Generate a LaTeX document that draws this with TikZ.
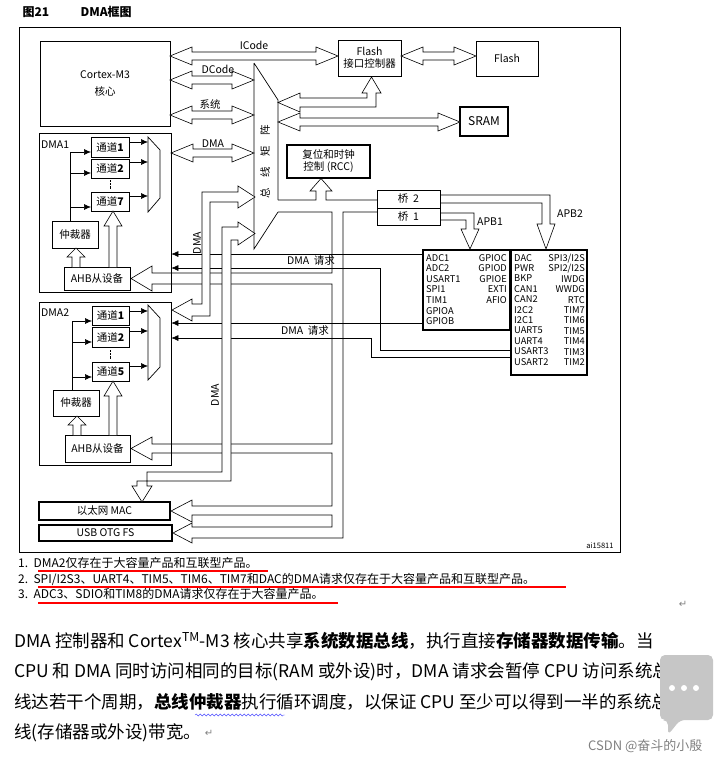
\documentclass[tikz,border=0pt]{standalone}
\usepackage{fontspec}
\setmainfont{Noto Sans CJK SC}
\newfontfamily\symfont{DejaVu Sans}
\usetikzlibrary{positioning,arrows.meta,decorations.pathmorphing}
\newcommand\dbl[3]{\draw[pipe] (#1,#3) -- ++(22,-9) -- ++(0,5) -- (#2-22,#3-4) -- ++(0,-5) -- (#2,#3) -- ++(-22,9) -- ++(0,-5) -- (#1+22,#3+4) -- ++(0,5) -- cycle;}
\newcommand\uparr[4]{\draw[pipe] (#1-4,#2) -- (#1-4,#4) -- (#1-9,#4) -- (#1,#3) -- (#1+9,#4) -- (#1+4,#4) -- (#1+4,#2);}
\tikzset{
  box/.style={draw, line width=0.7pt, inner sep=1pt, align=center, font=\fontsize{10.5}{12}\selectfont},
  thickbox/.style={box, line width=1.4pt},
  pipe/.style={draw, line width=0.6pt, fill=white},
  req/.style={line width=0.6pt, -{Latex[length=7pt,width=6pt]}},
  lbl/.style={font=\fontsize{10.5}{12}\selectfont, inner sep=0pt},
  note/.style={anchor=west, inner sep=0pt, font=\fontsize{12}{13}\selectfont},
  para/.style={anchor=west, inner sep=0pt, font=\fontsize{17.5}{19}\selectfont}
}
\begin{document}
\begin{tikzpicture}[x=1pt,y=-1pt]
\useasboundingbox (0,0) rectangle (713,763);
\node[anchor=west, font=\fontsize{12}{13}\selectfont\bfseries] (fig) at (19,12) {图21};
\node[anchor=west, font=\fontsize{12}{13}\selectfont\bfseries] (figname) at (77,12) {DMA框图};
\draw[line width=0.7pt] (19,27) rectangle (620,552);
% core and memories
\node[box, minimum width=130, minimum height=85] (cpu) at (105,83.5) {Cortex-M3\\[5pt]核心};
\node[box, minimum width=63, minimum height=36] (flashctl) at (369.5,58) {Flash\\接口控制器};
\node[box, minimum width=62, minimum height=35] (flash) at (507,58.5) {Flash};
\node[thickbox, minimum width=48, minimum height=29, font=\fontsize{12}{13}\selectfont] (sram) at (484,121.5) {SRAM};
\node[thickbox, minimum width=83, minimum height=33] (rcc) at (328.5,161.5) {复位和时钟\\控制 (RCC)};
\node[box, minimum width=63, minimum height=18] (brtwo) at (408.5,199) {桥\ \ 2};
\node[box, minimum width=63, minimum height=17] (brone) at (408.5,216.5) {桥\ \ 1};
% bus matrix
\draw[line width=0.7pt] (254,63) -- (278,100) -- (278,200) (278,212) -- (254,249) -- (254,63);
\node[lbl, rotate=90] (matrix) at (265,162) {总\quad 线\quad 矩\quad 阵};
\dbl{170}{338}{56}
\node[lbl] (icode) at (254,45) {ICode};
\dbl{170}{254}{80}
\node[lbl] (dcode) at (218,69) {DCode};
\dbl{170}{254}{115}
\node[lbl] (sys) at (210,104) {系统};
\dbl{171}{254}{153}
\node[lbl] (dmabus) at (213,144) {DMA};
\dbl{401}{476}{56}
\dbl{278}{460}{122}
\draw[pipe] (278,102.5) -- (300,93) -- (300,98) -- (367,98) -- (367,93) -- (362,93) -- (371.5,77) -- (381,93) -- (376,93) -- (376,107) -- (300,107) -- (300,112) -- cycle;
\draw[pipe, fill=none] (278,200) -- (316,200) -- (316,191) -- (310,191) -- (321,178.5) -- (332,191) -- (326,191) -- (326,200) -- (377,200);
% DMA1
\node[box, minimum width=132, minimum height=159] (dmaone) at (105,212.5) {};
\node[lbl, anchor=west] (dmaonelbl) at (41,145) {DMA1};
\node[box, minimum width=38, minimum height=20] (chAa) at (110,147) {通道\textbf{1}};
\node[box, minimum width=38, minimum height=19] (chAb) at (110,168.5) {通道\textbf{2}};
\node[box, minimum width=38, minimum height=19] (chAg) at (110,201.5) {通道\textbf{7}};
\draw[densely dotted] (110,180) -- (110,189);
\draw[line width=0.7pt] (148,137) -- (160,150) -- (160,198) -- (148,212) -- cycle;
\foreach \y in {142,162,196} \draw[req] (129,\y) -- (148,\y);
\node[box, minimum width=46, minimum height=27] (arbA) at (75,234.5) {仲裁器};
\node[box, minimum width=66, minimum height=23] (ahbA) at (97,278.5) {AHB从设备};
\draw[line width=0.6pt] (arbA.north -| 70,0) -- (70,152);
\foreach \y in {152,173,207} \draw[req] (70,\y) -- (91,\y);
\uparr{76}{267}{248}{257}
\uparr{113}{267}{211}{226}
% DMA2
\node[box, minimum width=132, minimum height=163] (dmatwo) at (105,383.5) {};
\node[lbl, anchor=west] (dmatwolbl) at (41,313) {DMA2};
\node[box, minimum width=37, minimum height=19] (chBa) at (110.5,315.5) {通道\textbf{1}};
\node[box, minimum width=37, minimum height=20] (chBb) at (110.5,337) {通道\textbf{2}};
\node[box, minimum width=37, minimum height=19] (chBe) at (110.5,371.5) {通道\textbf{5}};
\draw[densely dotted] (110.5,350) -- (110.5,359);
\draw[line width=0.7pt] (148,305) -- (160,318) -- (160,367) -- (148,380) -- cycle;
\foreach \y in {311,331,366} \draw[req] (129,\y) -- (148,\y);
\node[box, minimum width=46, minimum height=26] (arbB) at (76,403) {仲裁器};
\node[box, minimum width=65, minimum height=27] (ahbB) at (97.5,448.5) {AHB从设备};
\draw[line width=0.6pt] (72,390) -- (72,321);
\foreach \y in {321,342,377} \draw[req] (72,\y) -- (92,\y);
\uparr{77}{435}{416}{425}
\uparr{113}{435}{381}{396}
\node[thickbox, minimum width=131, minimum height=18] (eth) at (104.5,511) {以太网 MAC};
\node[thickbox, minimum width=133, minimum height=16] (usb) at (105.5,533) {USB OTG FS};
% APB peripherals
\node[thickbox, minimum width=87, minimum height=80] (apbone) at (466.5,290) {};
\node[thickbox, minimum width=76, minimum height=125] (apbtwo) at (549,312.5) {};
\node[anchor=north west, align=left, inner sep=0pt, font=\fontsize{9.3}{10.6}\selectfont] (apbonel) at (426,254) {ADC1\\ADC2\\USART1\\SPI1\\TIM1\\GPIOA\\GPIOB};
\node[anchor=north east, align=right, inner sep=0pt, font=\fontsize{9.3}{10.6}\selectfont] (apboner) at (507,254) {GPIOC\\GPIOD\\GPIOE\\EXTI\\AFIO};
\node[anchor=north west, align=left, inner sep=0pt, font=\fontsize{9.3}{10.4}\selectfont] (apbtwol) at (514,254) {DAC\\PWR\\BKP\\CAN1\\CAN2\\I2C2\\I2C1\\UART5\\UART4\\USART3\\USART2};
\node[anchor=north east, align=right, inner sep=0pt, font=\fontsize{9.3}{10.4}\selectfont] (apbtwor) at (585,254) {SPI3/I2S\\SPI2/I2S\\IWDG\\WWDG\\RTC\\TIM7\\TIM6\\TIM5\\TIM4\\TIM3\\TIM2};
\draw[pipe, fill=none] (440,213) -- (474,213) -- (474,229) -- (479,229) -- (470,249) -- (461,229) -- (466,229) -- (466,220) -- (440,220);
\node[lbl] (apbonelbl) at (490,222) {APB1};
\draw[pipe, fill=none] (440,195) -- (550,195) -- (550,224) -- (555,224) -- (546,249) -- (537,224) -- (542,224) -- (542,203) -- (440,203);
\node[lbl] (apbtwolbl) at (570,214) {APB2};
% DMA requests
\draw[req] (apbone.west |- 0,254) -- (dmaone.east |- 0,254);
\draw[req] (apbtwo.west |- 0,350) -- (380,350) -- (380,268) -- (dmaone.east |- 0,268);
\draw[req] (apbone.west |- 0,323) -- (dmatwo.east |- 0,323);
\draw[req] (apbtwo.west |- 0,357) -- (371,357) -- (371,338) -- (dmatwo.east |- 0,338);
\node[lbl] (reqone) at (311,261) {DMA\ \ 请求};
\node[lbl] (reqtwo) at (305,331) {DMA\ \ 请求};
% lower bus to AHB slaves
\draw[pipe, fill=none] (278,212) -- (332,212) -- (332,273) -- (152,273) -- (152,266) -- (131,278.5) -- (152,291) -- (152,284) -- (332,284) -- (332,444) -- (152,444) -- (152,437) -- (131,448.5) -- (152,460) -- (152,453) -- (332,453) -- (332,506) -- (192,506) -- (192,500) -- (171,511) -- (192,522) -- (192,515) -- (332,515) -- (332,527) -- (192,527) -- (192,523) -- (173,533) -- (192,543) -- (192,538) -- (343,538) -- (343,212) -- (377,212);
% DMA paths into the bus matrix
\draw[pipe] (255,197) -- (238,186) -- (238,192) -- (202,192) -- (202,304) -- (192,304) -- (192,299) -- (172,310) -- (192,321) -- (192,316) -- (210,316) -- (210,202) -- (238,202) -- (238,208) -- cycle;
\node[lbl, rotate=90] (dmaup) at (197,243) {DMA};
\draw[pipe] (255,233.5) -- (238,222) -- (238,227) -- (222,227) -- (222,472) -- (147,472) -- (147,486) -- (152,486) -- (142,502) -- (132,486) -- (137,486) -- (137,481) -- (231,481) -- (231,240) -- (238,240) -- (238,245) -- cycle;
\node[lbl, rotate=90] (dmadown) at (215,395) {DMA};
\node[lbl, font=\fontsize{7.5}{8}\selectfont] (code) at (600,546) {ai15811};
% notes
\node[note] (n1) at (18,563) {1.\ \ DMA2仅存在于大容量产品和互联型产品。};
\node[note] (n2) at (18,579) {2.\ \ SPI/I2S3、UART4、TIM5、TIM6、TIM7和DAC的DMA请求仅存在于大容量产品和互联型产品。};
\node[note] (n3) at (18,594) {3.\ \ ADC3、SDIO和TIM8的DMA请求仅存在于大容量产品。};
\draw[red, line width=1.2pt] (38,571) -- (268,571) (38,587) -- (566,587) (38,603) -- (338,603);
\node[gray, font=\symfont\fontsize{10}{11}\selectfont] (ret) at (683,604) {↵};
% paragraph
\node[para] (p1) at (14,641) {DMA 控制器和 Cortex\textsuperscript{TM}-M3 核心共享\textbf{系统数据总线}，执行直接\textbf{存储器数据传输}。当};
\node[para] (p2) at (14,672) {CPU 和 DMA 同时访问相同的目标(RAM 或外设)时，DMA 请求会暂停 CPU 访问系统总};
\node[para] (p3) at (14,702) {线达若干个周期，\textbf{总线仲裁器}执行循环调度，以保证 CPU 至少可以得到一半的系统总};
\node[para] (p4) at (14,733) {线(存储器或外设)带宽。};
\node[gray, anchor=west, font=\symfont\fontsize{10}{11}\selectfont] (ret2) at (p4.east) {↵};
\draw[blue!70, decorate, decoration={snake, amplitude=1pt, segment length=4pt}] (195,715) -- (285,715);
% overlay
\fill[gray!45, rounded corners=5pt] (660,655) -- (713,655) -- (713,720) -- (680,720) -- (668,735) -- (668,720) -- (660,720) -- cycle;
\foreach \x in {672,684,696} \fill[white] (\x,688) circle (3);
\node[gray, anchor=east, font=\fontsize{13}{14}\selectfont] (wm) at (706,746) {CSDN @奋斗的小殷};
\end{tikzpicture}
\end{document}
